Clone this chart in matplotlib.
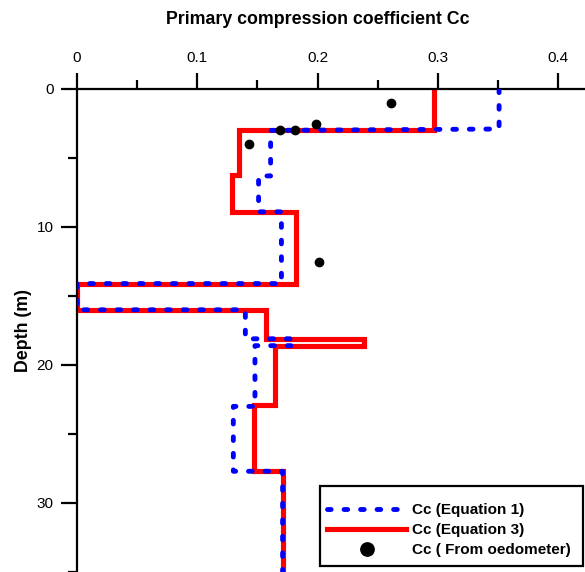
import matplotlib
matplotlib.use("Agg")
import matplotlib.pyplot as plt
from matplotlib.ticker import MultipleLocator
from matplotlib.patches import Rectangle

plt.rcParams['font.family'] = ['Liberation Sans', 'DejaVu Sans']

# Equation 3 (red, step profile): x values and depth vertices
eq3_cc = [0.297, 0.297, 0.135, 0.135, 0.129, 0.129, 0.182, 0.182, 0.0, 0.0,
          0.157, 0.157, 0.239, 0.239, 0.165, 0.165, 0.147, 0.147, 0.171, 0.171]
eq3_depth = [0.0, 3.0, 3.0, 6.2, 6.2, 8.9, 8.9, 14.1, 14.1, 16.0,
             16.0, 18.1, 18.1, 18.6, 18.6, 22.9, 22.9, 27.7, 27.7, 35.5]

# Equation 1 (blue dotted)
eq1_cc = [0.351, 0.351, 0.161, 0.161, 0.151, 0.151, 0.170, 0.170, 0.0, 0.0,
          0.140, 0.140, 0.180, 0.180, 0.148, 0.148, 0.130, 0.130, 0.171, 0.171]
eq1_depth = [0.0, 2.9, 3.0, 6.3, 6.3, 8.9, 8.9, 14.1, 14.1, 16.0,
             16.0, 18.1, 18.1, 18.6, 18.6, 23.0, 23.0, 27.7, 27.7, 35.5]

# Oedometer measurements
oed_cc = [0.261, 0.199, 0.169, 0.181, 0.143, 0.201]
oed_depth = [1.0, 2.5, 3.0, 3.0, 4.0, 12.5]

W, H = 585, 572
fig = plt.figure(figsize=(W / 100, H / 100), dpi=100)
ax = fig.add_axes([77/W, 0.0, 1 - 77/W, 1 - 89/H])

red, = ax.plot(eq3_cc, eq3_depth, color='#ff0000', lw=3.7, zorder=2,
               solid_joinstyle='miter', label='Cc (Equation 3)')
blue, = ax.plot(eq1_cc, eq1_depth, color='#0000ff', lw=3.5, zorder=3,
                linestyle=(0, (0.75, 2.65)), dash_capstyle='round',
                label='Cc (Equation 1)')
pts, = ax.plot(oed_cc, oed_depth, 'o', color='black', ms=6, zorder=4,
               linestyle='none', label='Cc ( From oedometer)')

ax.set_xlim(0, 508/1202.5)
ax.set_ylim(35, 0)

ax.xaxis.tick_top()
ax.set_xticks([0, 0.1, 0.2, 0.3, 0.4])
ax.set_xticklabels(['0', '0.1', '0.2', '0.3', '0.4'])
ax.xaxis.set_minor_locator(MultipleLocator(0.05))
ax.yaxis.set_major_locator(MultipleLocator(10))
ax.yaxis.set_minor_locator(MultipleLocator(5))

for side in ['right', 'bottom']:
    ax.spines[side].set_visible(False)
for side in ['left', 'top']:
    ax.spines[side].set_linewidth(1.6)

ax.tick_params(axis='both', which='major', direction='out', length=11.5,
               width=1.6, labelsize=11)
ax.tick_params(axis='both', which='minor', direction='out', length=6.5,
               width=1.6)
ax.tick_params(axis='x', which='major', pad=6)
ax.tick_params(axis='y', which='major', pad=5.5)
ax.tick_params(axis='x', which='both', top=True, bottom=False,
               labeltop=True, labelbottom=False)

fig.text(318/W, 1 - 20/H, 'Primary compression coefficient Cc',
         ha='center', va='center', fontsize=12.8, fontweight='bold')
fig.text(24/W, 1 - 331/H, 'Depth (m)', rotation=90,
         ha='center', va='center', fontsize=12.8, fontweight='bold')

# legend box frame
frame = Rectangle((320/W, 1 - 566/H), (583 - 320)/W, (566 - 486)/H,
                  transform=fig.transFigure, facecolor='white',
                  edgecolor='black', lw=1.6, zorder=5)
fig.add_artist(frame)

leg = fig.legend(handles=[blue, red, pts], loc='upper left',
                 bbox_to_anchor=(320/W, 1 - 496/H),
                 borderaxespad=0, frameon=False,
                 handlelength=5.2, handletextpad=0.35,
                 labelspacing=0.41, borderpad=0.45, markerscale=1.6,
                 prop={'weight': 'bold', 'size': 11})
leg.set_zorder(6)

fig.savefig('out.png', dpi=100)
